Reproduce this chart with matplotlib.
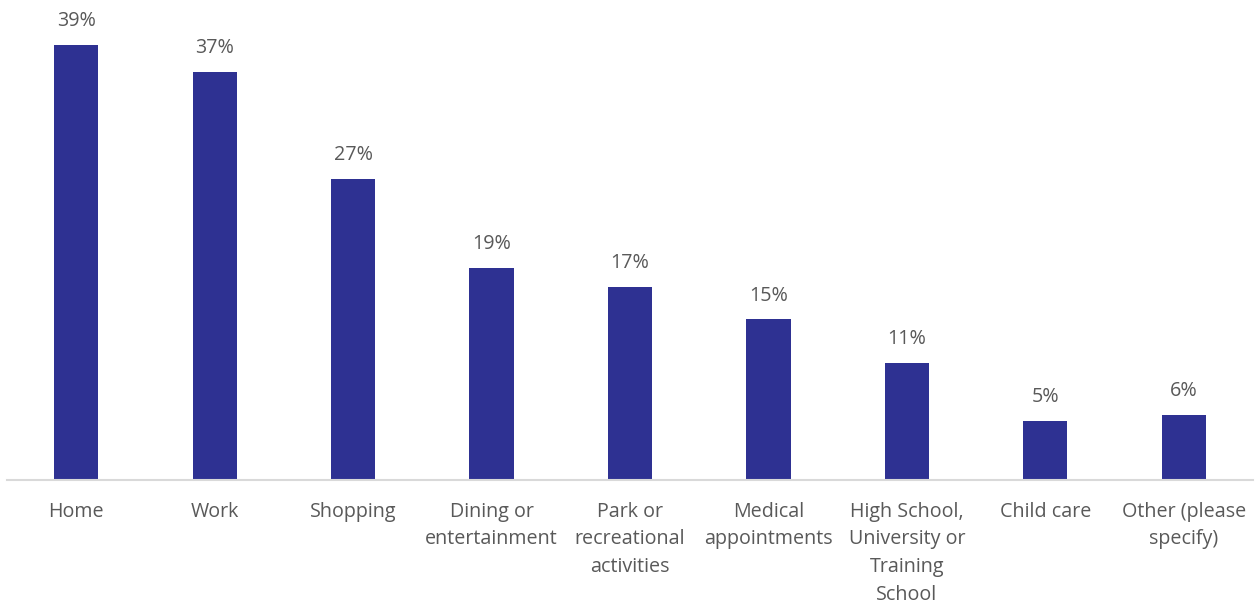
import matplotlib
matplotlib.use("Agg")
import matplotlib.pyplot as plt

categories = ["Home", "Work", "Shopping", "Dining or\nentertainment", "Park or\nrecreational\nactivities",
              "Medical\nappointments", "High School,\nUniversity or\nTraining\nSchool", "Child care",
              "Other (please\nspecify)"]
values = [39.0, 36.6, 27.0, 19.0, 17.3, 14.4, 10.5, 5.3, 5.8]
labels = ["39%", "37%", "27%", "19%", "17%", "15%", "11%", "5%", "6%"]

plt.rcParams['font.family'] = ['Open Sans', 'DejaVu Sans']
TXT = "#595959"
BAR = "#2E3192"
FS = 14.2

fig = plt.figure(figsize=(12.56, 6.04), dpi=100)
ax = fig.add_axes([7/1256, 1-480/604, 1246/1256, 446/604])
x = list(range(len(categories)))
bars = ax.bar(x, values, width=0.32, color=BAR, zorder=2)
for xi, v, lab in zip(x, values, labels):
    ax.annotate(lab, (xi, v), xytext=(0, 10), textcoords="offset points",
                ha="center", va="bottom", fontsize=FS, color=TXT)
ax.set_xlim(-0.5, 8.5)
ax.set_ylim(0, 40)
ax.set_xticks(x)
ax.set_xticklabels(categories, fontsize=FS, color=TXT, linespacing=1.53)
ax.tick_params(axis='x', length=0, pad=15.5)
ax.set_yticks([])
for s in ["top", "right", "left"]:
    ax.spines[s].set_visible(False)
ax.spines["bottom"].set_color("#D9D9D9")
ax.spines["bottom"].set_linewidth(1.5)
fig.savefig("out.png", dpi=100)
